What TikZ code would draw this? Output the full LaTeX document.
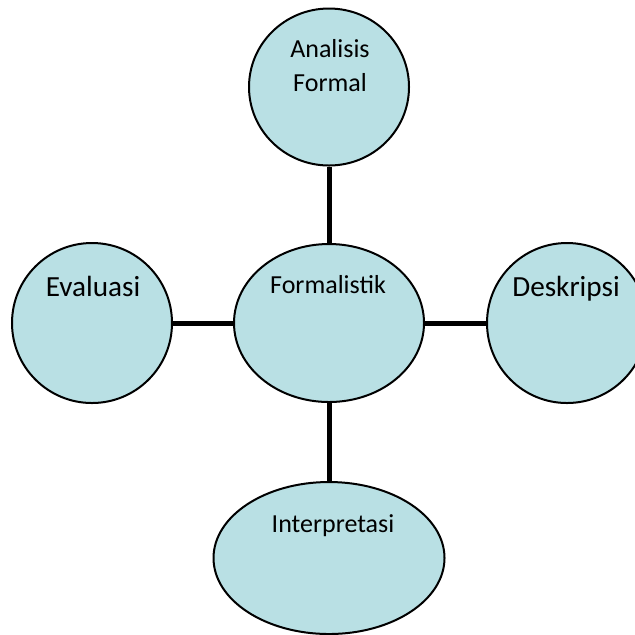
\documentclass[tikz,border=0pt]{standalone}
\usepackage{fontspec}
\setmainfont{Carlito}
\usepackage{tikz}
\usetikzlibrary{shapes.geometric}
\definecolor{bubblefill}{HTML}{B9E0E4}

\tikzset{
	bubble/.style={ellipse, draw=black, line width=1pt, fill=bubblefill, inner sep=0pt},
	txt/.style={anchor=base, inner sep=0pt, align=center, font=\fontsize{13}{17}\selectfont},
	bigtxt/.style={txt, font=\fontsize{14.6}{17}\selectfont},
	link/.style={line width=2.5pt, black}
}

\begin{document}
\begin{tikzpicture}[x=0.5pt,y=-0.5pt]
		\useasboundingbox (0,0) rectangle (635,634);
		% shapes
		\node[bubble, minimum width=80pt, minimum height=78.5pt] (ana) at (329,87) {};
		\node[bubble, minimum width=95pt, minimum height=79pt] (form) at (329,323) {};
		\node[bubble, minimum width=80pt, minimum height=80pt] (eval) at (92,323) {};
		\node[bubble, minimum width=80pt, minimum height=80pt] (desk) at (567,323) {};
		\node[bubble, minimum width=115.5pt, minimum height=76pt] (interp) at (329,558) {};
		% links
		\draw[link] (form.north) -- (ana.south);
		\draw[link] (form.west) -- (eval.east);
		\draw[link] (form.east) -- (desk.west);
		\draw[link] (form.south) -- (interp.north);
		% texts
		\node[txt] (anaTxt) at (330,91) {Analisis\\Formal};
		\node[txt] (formTxt) at (328,293) {Formalistik};
		\node[bigtxt] (evalTxt) at (93,296) {Evaluasi};
		\node[bigtxt] (deskTxt) at (566,296) {Deskripsi};
		\node[txt] (interpTxt) at (333,532) {Interpretasi};
	\end{tikzpicture}
\end{document}
